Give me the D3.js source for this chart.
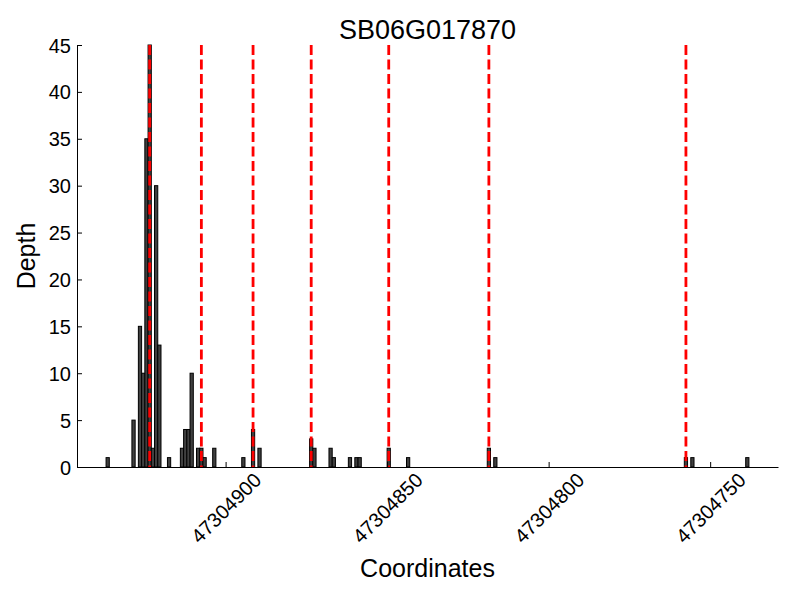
<!DOCTYPE html>
<html><head><meta charset="utf-8">
<script src="https://cdn.jsdelivr.net/npm/d3@7"></script>
<style>body{margin:0;background:#fff}svg{display:block}text{font-family:"Liberation Sans",Arial,sans-serif;fill:#000}</style>
</head><body><div id="chart"></div>
<script>
const title = "SB06G017870";
const xLabel = "Coordinates";
const yLabel = "Depth";
// bar start coordinates (each bar covers one base) and depths
const positions = [47304936,47304928,47304926,47304925,47304924,47304923,47304922,47304921,47304920,47304917,
  47304913,47304912,47304911,47304910,47304908,47304907,47304906,47304903,47304894,47304891,47304889,
  47304873,47304872,47304867,47304866,47304861,47304859,47304858,47304849,47304843,47304818,47304816,
  47304757,47304755,47304738];
const depths = [1,5,15,10,35,45,2,30,13,1,
  2,4,4,10,2,2,1,2,1,4,2,
  3,2,2,1,1,1,1,2,1,2,1,
  1,1,1];
const markers = [47304923,47304907,47304891,47304873,47304849,47304818,47304757];
const xDomain = [47304946,47304729];
const xTicks = [47304900,47304850,47304800,47304750];
const yTicks = [0,5,10,15,20,25,30,35,40,45];

const W=800,H=600, m={l:77,r:22,t:45,b:133};
const svg=d3.select("#chart").append("svg").attr("width",W).attr("height",H);
const x=d3.scaleLinear().domain(xDomain).range([m.l,W-m.r]);
const y=d3.scaleLinear().domain([0,45]).range([H-m.b,m.t]);
const data=positions.map((p,i)=>({p,d:depths[i]}));

svg.append("g").selectAll("rect").data(data).join("rect")
  .attr("x",d=>x(d.p+1)).attr("width",d=>x(d.p)-x(d.p+1))
  .attr("y",d=>y(d.d)).attr("height",d=>y(0)-y(d.d))
  .attr("fill","#404040").attr("stroke","#000").attr("stroke-width",1);

svg.append("g").selectAll("line").data(markers).join("line")
  .attr("x1",d=>x(d+0.5)).attr("x2",d=>x(d+0.5))
  .attr("y1",y(45)).attr("y2",y(0))
  .attr("stroke","#ff0000").attr("stroke-width",2.8).attr("stroke-dasharray","10,4.5");

// axes
const xa=svg.append("g").attr("transform",`translate(0,${y(0)})`)
  .call(d3.axisBottom(x).tickValues(xTicks).tickSizeInner(-5).tickSizeOuter(0).tickFormat(d3.format("d")));
xa.select(".domain").attr("stroke","#000");
xa.selectAll("text").attr("font-size",20).attr("text-anchor","middle").attr("dy",null).attr("y",null)
  .attr("dominant-baseline","central").attr("transform","translate(0,41) rotate(-45)");
const ya=svg.append("g").attr("transform",`translate(${m.l},0)`)
  .call(d3.axisLeft(y).tickValues(yTicks).tickSizeInner(-5).tickSizeOuter(0));
ya.selectAll("text").attr("font-size",20).attr("x",-6).attr("dy","0.35em");
ya.select(".domain").attr("stroke","#000");
svg.selectAll(".tick line").attr("stroke","#000");
svg.selectAll(".tick text").attr("fill","#000");

svg.append("text").attr("x",(m.l+W-m.r)/2).attr("y",39).attr("text-anchor","middle").attr("font-size",27).text(title);
svg.append("text").attr("x",(m.l+W-m.r)/2).attr("y",577).attr("text-anchor","middle").attr("font-size",25).text(xLabel);
svg.append("text").attr("transform",`translate(35,${(m.t+H-m.b)/2}) rotate(-90)`).attr("text-anchor","middle").attr("font-size",25).text(yLabel);
</script></body></html>
